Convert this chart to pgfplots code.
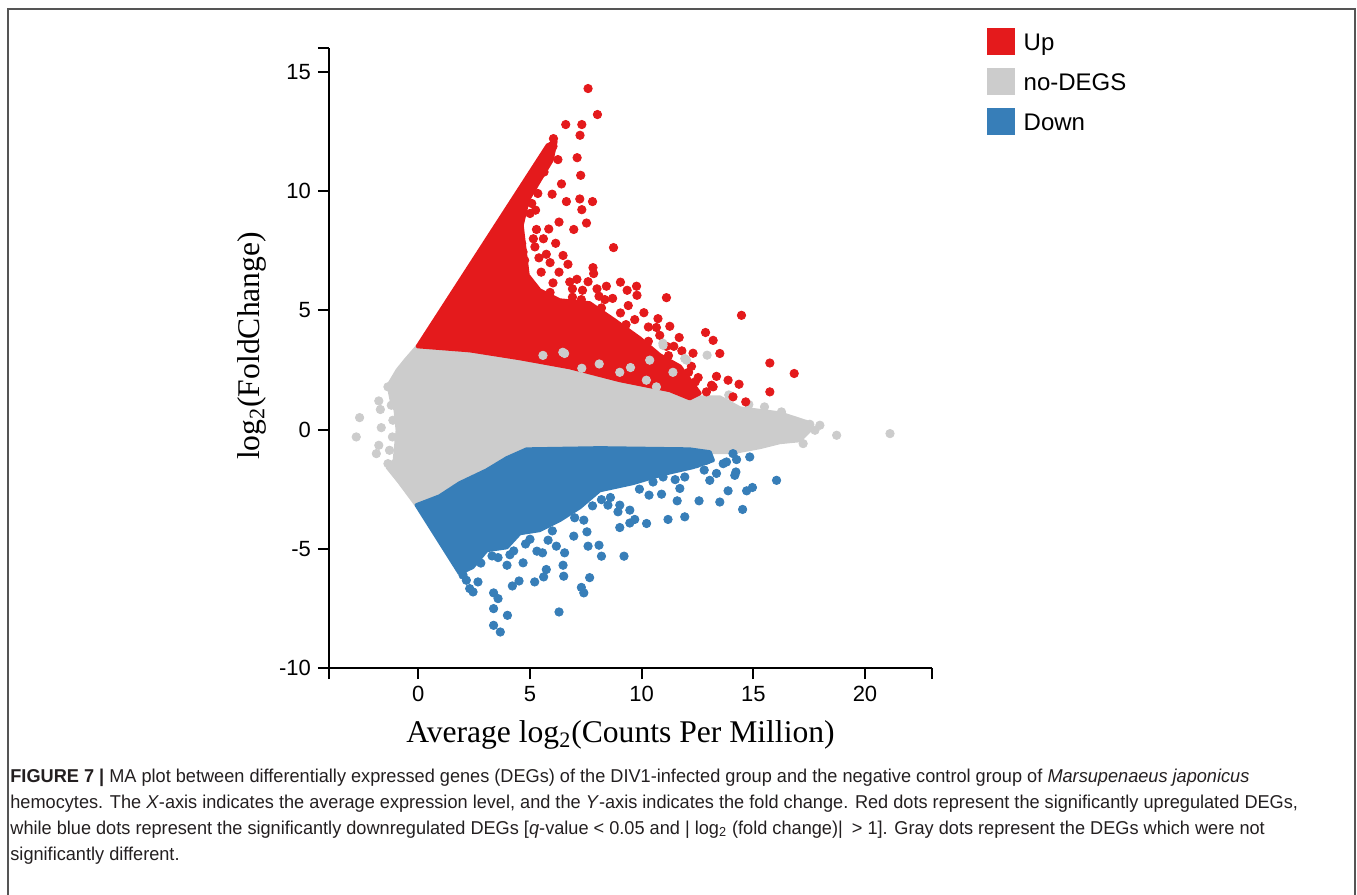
\documentclass[border=0pt]{standalone}
\usepackage{fontspec}
\setmainfont{Liberation Sans}
\newfontfamily\serifx{Liberation Serif}
\usepackage{graphicx}
\usepackage{pgfplots}
\pgfplotsset{compat=1.18}
\definecolor{upred}{RGB}{228,26,28}
\definecolor{dnblue}{RGB}{55,126,184}
\definecolor{nogray}{RGB}{204,204,204}
\definecolor{framecol}{RGB}{85,85,85}
\definecolor{capcol}{RGB}{35,31,32}
\newlength\capw
\newcommand\capfont{\fontsize{9.3}{11}\selectfont}
\newcommand\lineA{\textbf{FIGURE 7 |} MA plot between differentially expressed genes (DEGs) of the DIV1-infected group and the negative control group of \textit{Marsupenaeus japonicus}}
\newcommand\lineB{hemocytes. The \textit{X}-axis indicates the average expression level, and the \textit{Y}-axis indicates the fold change. Red dots represent the significantly upregulated DEGs,}
\newcommand\lineC{while blue dots represent the significantly downregulated DEGs [\textit{q}-value < 0.05 and | log\textsubscript{2} (fold change)|\enspace > 1]. Gray dots represent the DEGs which were not}
\newcommand\lineD{significantly different.}
\begin{document}%
\settowidth{\capw}{\capfont\lineA}%
\pgfmathsetmacro\capsc{619.5/\capw}%
\begin{tikzpicture}
\path[use as bounding box] (0,0) rectangle (678.5pt,-447.5pt);
\draw[framecol, line width=1pt] (4.15pt,-448pt) -- (4.15pt,-4.5pt) -- (677.5pt,-4.5pt) -- (677.5pt,-448pt);
\begin{axis}[
  scale only axis, width=301.5pt, height=310pt,
  at={(164.5pt,-334pt)}, anchor=south west,
  xmin=-4, xmax=23, ymin=-10, ymax=16,
  axis x line*=bottom, axis y line*=left,
  xtick={0,5,10,15,20}, ytick={-10,-5,0,5,10,15},
  extra x ticks={-4,23}, extra x tick labels={},
  extra y ticks={16}, extra y tick labels={},
  tick align=outside, major tick length=5.5pt,
  tick style={black, line width=1pt},
  axis line style={black, line width=1pt},
  ticklabel style={font=\fontsize{11}{13}\selectfont},
  /pgf/number format/assume math mode=true,
  legend style={at={(1.0907,1.0323)}, anchor=north west, draw=none, fill=none,
    inner sep=0pt, outer sep=0pt, row sep=6.5pt, column sep=4.5pt,
    font=\fontsize{12}{14}\selectfont,
    nodes={inner sep=0pt, outer sep=0pt, text height=8.6pt, text depth=0pt}},
  legend cell align=left,
  legend image code/.code={\fill[#1, draw=none] (0pt,-6.75pt) rectangle (14pt,6.75pt);},
  dots/.style={only marks, mark=*, mark size=2.1pt, forget plot, mark options={draw=none}},
]
% no-DEGs dense region
\addplot[fill=nogray, draw=nogray, line width=2pt, line join=round, forget plot] coordinates {
(-0.03,3.49) (2.30,3.32) (4.54,2.99) (6.78,2.65) (9.02,2.15) (11.26,1.73) (12.60,1.35) (13.50,1.35) (14.40,0.89) (16.19,0.68) (17.40,0.31) (17.62,0.05) (17.08,-0.45) (16.19,-0.53) (15.29,-0.74) (14.08,-0.95) (13.05,-0.95) (12.15,-0.83) (8.12,-0.78) (4.85,-0.83) (3.96,-1.20) (3.06,-1.71) (1.85,-2.25) (0.95,-2.80) (-0.08,-3.17) (-0.84,-2.21) (-1.38,-1.58) (-1.06,-1.29) (-0.93,-0.03) (-1.02,0.81) (-1.20,1.23) (-1.33,1.86) (-0.93,2.49) (-0.57,2.91)
} -- cycle;
\addplot[dots, color=nogray] coordinates {
(-2.63,0.50) (-2.78,-0.31) (-1.77,1.20) (-1.70,0.84) (-1.66,0.08) (-1.77,-0.66) (-1.88,-1.01) (-1.36,1.79) (-1.21,1.02) (-1.14,0.39) (-1.16,-0.31) (-1.29,-0.87) (-1.36,-1.43)
(16.26,0.74) (17.53,0.22) (18.73,-0.24) (21.12,-0.17) (17.23,-0.59) (16.71,-0.10) (17.76,-0.03) (17.98,0.18) (13.9,1.45) (14.8,1.05) (15.5,0.95)
};
% Up dense region
\addplot[fill=upred, draw=upred, line width=2pt, line join=round, forget plot] coordinates {
(-0.03,3.49) (5.79,11.92) (6.15,12.09) (5.97,11.29) (5.43,10.45) (4.90,9.61) (4.63,8.57) (4.76,7.52) (4.90,6.47) (5.43,5.84) (6.33,5.42) (7.67,5.30) (8.79,4.58) (9.91,3.83) (10.81,3.12) (11.71,2.65) (12.60,1.52) (12.15,1.31) (11.26,1.65) (9.02,2.07) (6.78,2.61) (4.54,2.99) (2.30,3.32)
} -- cycle;
\addplot[dots, color=upred] coordinates {
(7.60,14.30) (8.02,13.21) (6.60,12.79) (7.32,12.79) (7.24,12.34) (6.05,12.20) (6.03,11.88) (7.11,11.40) (6.25,11.32) (7.27,10.66) (5.63,10.80) (6.41,10.30) (5.99,9.87) (6.63,9.56) (7.23,9.67) (7.80,9.56) (7.32,9.22) (5.08,9.48) (5.00,9.06) (6.30,8.70) (7.53,8.66) (5.29,8.39) (5.84,8.41) (6.96,8.39) (8.74,7.63) (6.15,7.81) (5.22,7.66) (4.63,7.80) (5.73,7.35) (6.48,7.30) (6.70,6.93) (7.82,6.79) (4.69,7.45) (4.76,7.10) (7.85,6.54) (6.03,6.15) (6.78,6.19) (8.42,6.01) (9.05,6.18) (9.77,6.01) (9.35,5.84) (9.79,5.63) (11.11,5.53) (7.35,5.84) (8.09,5.59) (8.35,5.45) (14.47,4.79) (9.05,4.89) (9.69,4.61) (10.73,4.65) (10.66,4.28) (11.26,4.33) (11.68,3.86) (10.81,3.95) (11.11,3.49) (11.44,3.49) (12.86,4.07) (13.20,3.74) (13.50,3.19) (12.23,2.65) (15.74,2.79) (16.83,2.35) (12.53,2.18) (13.35,2.23) (13.87,2.07) (14.36,1.90) (13.20,1.79) (14.09,1.37) (15.74,1.58) (14.66,1.16) (12.90,1.58) (13.13,1.86)
(5.9,5.75) (6.9,5.55) (7.3,5.45) (8.2,5.1) (9.3,4.4) (10.3,3.7) (11.2,3.1) (12.1,2.4) (12.4,2.0) (5.5,6.6) (6.3,6.6) (7.1,6.3) (5.9,7.0) (6.9,5.9) (7.6,6.2) (8.0,5.9) (8.7,5.5) (9.4,5.2) (10.1,4.9) (10.3,4.3) (11.8,3.3) (12.3,3.2) (5.35,9.9) (5.25,9.2) (5.15,8.0) (5.6,8.0) (5.4,7.2)
};
% gray dots lying over the red area
\addplot[dots, color=nogray] coordinates {
(6.47,3.24) (7.32,2.57) (9.02,2.40) (10.36,2.91) (10.95,3.62) (5.58,3.11) (6.55,3.19) (10.21,2.07) (10.66,1.79) (10.96,3.53) (12.01,2.91) (12.93,3.12) (11.93,2.98) (8.1,2.75) (9.5,2.6) (11.4,2.4)
};
% Down dense region
\addplot[fill=dnblue, draw=dnblue, line width=2pt, line join=round, forget plot] coordinates {
(-0.08,-3.17) (0.95,-2.80) (1.85,-2.25) (3.06,-1.71) (3.96,-1.20) (4.85,-0.83) (8.12,-0.78) (12.15,-0.83) (13.05,-0.95) (13.19,-1.29) (12.29,-1.58) (11.12,-1.83) (9.60,-2.25) (8.12,-2.55) (7.23,-3.26) (6.33,-3.80) (5.43,-4.22) (4.54,-4.35) (3.96,-4.94) (3.06,-5.06) (2.43,-5.77) (1.85,-6.03)
} -- cycle;
\addplot[dots, color=dnblue] coordinates {
(2.30,-6.67) (2.45,-6.81) (2.67,-6.39) (2.15,-6.32) (3.37,-6.85) (3.57,-7.09) (3.37,-7.51) (3.99,-7.79) (3.37,-8.21) (3.67,-8.49) (6.30,-7.65) (4.21,-6.56) (4.51,-6.35) (5.21,-6.39) (5.61,-6.18) (6.51,-6.15) (7.30,-6.62) (7.41,-6.85) (7.67,-6.21) (6.48,-5.69) (5.73,-5.87) (4.69,-5.59) (3.97,-5.69) (3.57,-5.37) (4.27,-5.09) (5.31,-5.10) (5.56,-5.17) (6.55,-5.17) (5.81,-4.64) (6.18,-4.89) (7.60,-4.89) (8.09,-4.85) (8.20,-5.31) (9.21,-5.31) (6.96,-4.47) (7.55,-4.29) (7.41,-3.80) (9.02,-4.11) (9.47,-3.92) (9.69,-3.77) (10.22,-3.94) (11.18,-3.77) (9.47,-3.38) (9.02,-3.17) (10.33,-2.75) (10.89,-2.71) (11.59,-2.99) (8.20,-2.94) (8.94,-3.45) (8.49,-3.17) (11.93,-3.66) (12.57,-2.99) (13.50,-3.04) (14.52,-3.35) (11.71,-2.47) (11.93,-1.99) (10.96,-1.99) (10.51,-2.20) (13.87,-2.57) (14.70,-2.57) (14.96,-2.43) (16.04,-2.13) (14.17,-1.92) (14.22,-1.78) (13.05,-2.13) (13.35,-1.84) (13.65,-1.43) (13.80,-1.36) (14.09,-1.01) (14.25,-1.26) (14.84,-1.15) (12.90,-1.29) (12.46,-1.43)
(2.8,-5.6) (3.3,-5.3) (4.1,-5.25) (5.0,-4.6) (6.0,-4.25) (7.0,-3.7) (7.8,-3.2) (8.6,-2.85) (9.9,-2.5) (11.5,-2.1) (12.8,-1.7) (2.0,-6.1) (4.8,-4.8)
};
\addlegendimage{fill=upred}
\addlegendentry{Up}
\addlegendimage{fill=nogray}
\addlegendentry{no-DEGS}
\addlegendimage{fill=dnblue}
\addlegendentry{Down}
\end{axis}
\node[rotate=90, inner sep=0pt, font=\serifx\fontsize{15.8}{18}\selectfont] at (126pt,-173pt) {log\textsubscript{2}(FoldChange)};
\node[inner sep=0pt, font=\serifx\fontsize{15.8}{18}\selectfont] at (310.25pt,-367.5pt) {Average log\textsubscript{2}(Counts Per Million)};
\node[anchor=base west, inner sep=0pt, text=capcol] at (5pt,-391pt) {\scalebox{\capsc}[1]{\capfont\lineA}};
\node[anchor=base west, inner sep=0pt, text=capcol] at (5pt,-404pt) {\scalebox{\capsc}[1]{\capfont\lineB}};
\node[anchor=base west, inner sep=0pt, text=capcol] at (5pt,-417pt) {\scalebox{\capsc}[1]{\capfont\lineC}};
\node[anchor=base west, inner sep=0pt, text=capcol] at (5pt,-430pt) {\scalebox{\capsc}[1]{\capfont\lineD}};
\end{tikzpicture}%
\end{document}
